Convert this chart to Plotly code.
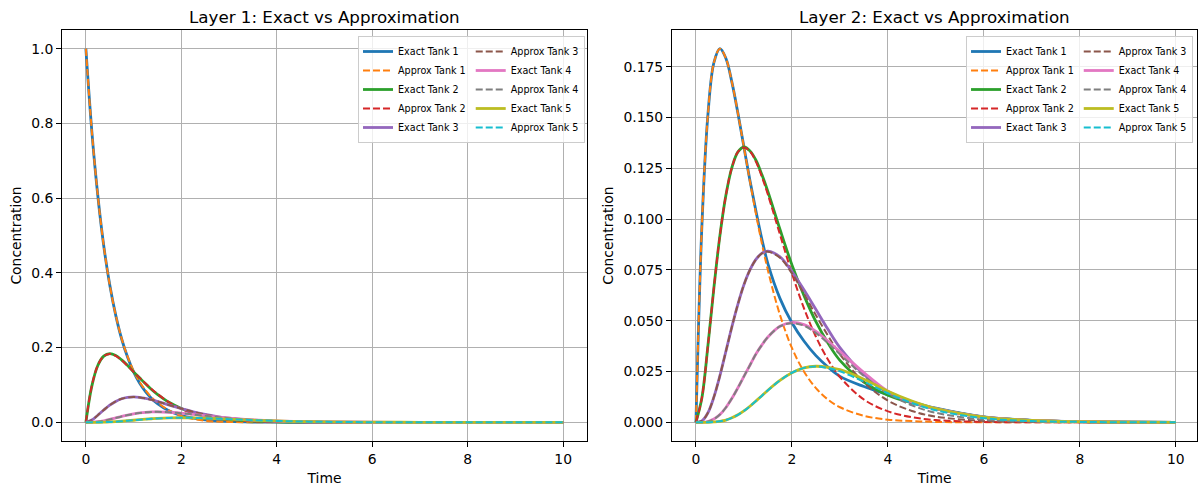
import plotly.graph_objects as go
from plotly.subplots import make_subplots

# Time samples
t = [0, 0.125, 0.25, 0.375, 0.5, 0.625, 0.75, 0.875, 1, 1.125, 1.25, 1.375, 1.5, 1.75,
     2, 2.25, 2.5, 2.75, 3, 3.5, 4, 4.5, 5, 6, 7, 8, 9, 10]

# ---------------- Layer 1 ----------------
l1_exact_1 = [1.000, 0.779, 0.607, 0.472, 0.368, 0.287, 0.223, 0.174, 0.135, 0.105, 0.082, 0.064, 0.050, 0.030,
              0.018, 0.011, 0.0067, 0.0041, 0.0025, 0.0009, 0.0003, 0.0001, 0.0, 0, 0, 0, 0, 0]
l1_approx_1 = [1.000, 0.779, 0.607, 0.472, 0.368, 0.287, 0.224, 0.176, 0.137, 0.108, 0.086, 0.067, 0.053, 0.031,
               0.017, 0.009, 0.004, 0.002, 0.001, 0.0003, 0.0001, 0, 0, 0, 0, 0, 0, 0]
l1_exact_2 = [0, 0.097, 0.152, 0.177, 0.184, 0.179, 0.167, 0.152, 0.135, 0.119, 0.103, 0.088, 0.075, 0.053,
              0.037, 0.025, 0.017, 0.011, 0.0074, 0.0032, 0.0013, 0.0006, 0.0002, 0, 0, 0, 0, 0]
l1_approx_2 = [0, 0.098, 0.152, 0.177, 0.183, 0.178, 0.166, 0.151, 0.135, 0.119, 0.104, 0.089, 0.076, 0.053,
               0.036, 0.024, 0.016, 0.010, 0.0068, 0.0028, 0.0011, 0.0004, 0.0001, 0, 0, 0, 0, 0]
l1_exact_3 = [0, 0.006, 0.019, 0.033, 0.046, 0.056, 0.063, 0.0665, 0.068, 0.0667, 0.064, 0.0604, 0.056, 0.046,
              0.037, 0.028, 0.021, 0.0155, 0.0112, 0.0056, 0.0027, 0.0012, 0.0006, 0.0001, 0, 0, 0, 0]
l1_approx_3 = [0, 0.006, 0.019, 0.033, 0.046, 0.056, 0.063, 0.0665, 0.068, 0.0667, 0.064, 0.0604, 0.056, 0.046,
               0.037, 0.028, 0.021, 0.0150, 0.0108, 0.0053, 0.0025, 0.0011, 0.0005, 0.0001, 0, 0, 0, 0]
l1_exact_4 = [0, 0.0003, 0.0016, 0.0042, 0.0077, 0.0117, 0.0157, 0.0194, 0.0226, 0.0250, 0.0267, 0.0277, 0.0280, 0.0270,
              0.0244, 0.0211, 0.0176, 0.0142, 0.0112, 0.0065, 0.0036, 0.0019, 0.0010, 0.0002, 0.0001, 0, 0, 0]
l1_approx_4 = [0, 0.0003, 0.0016, 0.0042, 0.0077, 0.0117, 0.0157, 0.0194, 0.0226, 0.0250, 0.0267, 0.0277, 0.0280, 0.0270,
               0.0243, 0.0210, 0.0174, 0.0140, 0.0110, 0.0063, 0.0034, 0.0018, 0.0009, 0.0002, 0, 0, 0, 0]
l1_exact_5 = [0, 0, 0.0001, 0.0004, 0.0010, 0.0018, 0.0029, 0.0043, 0.0056, 0.0070, 0.0084, 0.0095, 0.0105, 0.0118,
              0.0122, 0.0119, 0.0110, 0.0097, 0.0084, 0.0057, 0.0036, 0.0021, 0.0012, 0.0003, 0.0001, 0, 0, 0]
l1_approx_5 = [0, 0, 0.0001, 0.0004, 0.0010, 0.0018, 0.0029, 0.0043, 0.0056, 0.0070, 0.0084, 0.0095, 0.0105, 0.0118,
               0.0122, 0.0120, 0.0111, 0.0098, 0.0085, 0.0058, 0.0037, 0.0022, 0.0013, 0.0003, 0.0001, 0, 0, 0]

# ---------------- Layer 2 ----------------
l2_exact_1 = [0, 0.0974, 0.1516, 0.1771, 0.1839, 0.1791, 0.1673, 0.1521, 0.1355, 0.1190, 0.1040, 0.0900, 0.0780, 0.0610,
              0.0490, 0.0400, 0.0328, 0.0272, 0.0226, 0.0176, 0.0136, 0.0100, 0.0070, 0.0027, 0.0010, 0.0003, 0.0001, 0]
l2_approx_1 = [0, 0.0974, 0.1516, 0.1771, 0.1839, 0.1791, 0.1673, 0.1521, 0.1353, 0.1186, 0.1026, 0.0879, 0.0747, 0.0529,
               0.0366, 0.0250, 0.0168, 0.0112, 0.0074, 0.0032, 0.0013, 0.0006, 0.0002, 0.0000, 0, 0, 0, 0]
l2_exact_2 = [0, 0.0122, 0.0379, 0.0664, 0.0920, 0.1119, 0.1255, 0.1331, 0.1355, 0.1336, 0.1290, 0.1218, 0.1135, 0.0950,
              0.0775, 0.0625, 0.0495, 0.0390, 0.0305, 0.0198, 0.0134, 0.0096, 0.0067, 0.0026, 0.0009, 0.0003, 0.0001, 0]
l2_approx_2 = [0, 0.0122, 0.0379, 0.0664, 0.0920, 0.1119, 0.1255, 0.1331, 0.1353, 0.1334, 0.1283, 0.1208, 0.1120, 0.0925,
               0.0733, 0.0562, 0.0421, 0.0309, 0.0223, 0.0112, 0.0054, 0.0025, 0.0011, 0.0002, 0, 0, 0, 0]
l2_exact_3 = [0, 0.0007, 0.0047, 0.0125, 0.0230, 0.0350, 0.0471, 0.0582, 0.0677, 0.0750, 0.0802, 0.0833, 0.0843, 0.0815,
              0.0742, 0.0652, 0.0555, 0.0458, 0.0368, 0.0236, 0.0146, 0.0098, 0.0066, 0.0025, 0.0009, 0.0003, 0.0001, 0]
l2_approx_3 = [0, 0.0007, 0.0047, 0.0125, 0.0230, 0.0350, 0.0471, 0.0582, 0.0677, 0.0750, 0.0801, 0.0831, 0.0840, 0.0810,
               0.0733, 0.0633, 0.0527, 0.0427, 0.0335, 0.0196, 0.0107, 0.0056, 0.0028, 0.0007, 0.0002, 0, 0, 0]
l2_exact_4 = [0, 0.0000, 0.0004, 0.0016, 0.0038, 0.0073, 0.0118, 0.0170, 0.0226, 0.0281, 0.0336, 0.0381, 0.0420, 0.0473,
              0.0491, 0.0481, 0.0448, 0.0400, 0.0348, 0.0245, 0.0153, 0.0101, 0.0067, 0.0025, 0.0009, 0.0003, 0.0001, 0]
l2_approx_4 = [0, 0.0000, 0.0004, 0.0016, 0.0038, 0.0073, 0.0118, 0.0170, 0.0226, 0.0281, 0.0336, 0.0381, 0.0420, 0.0472,
               0.0488, 0.0476, 0.0439, 0.0389, 0.0335, 0.0228, 0.0143, 0.0084, 0.0047, 0.0013, 0.0003, 0.0001, 0, 0]
l2_exact_5 = [0, 0, 0.0000, 0.0002, 0.0005, 0.0011, 0.0022, 0.0037, 0.0056, 0.0079, 0.0105, 0.0131, 0.0158, 0.0206,
              0.0244, 0.0268, 0.0276, 0.0271, 0.0259, 0.0212, 0.0153, 0.0105, 0.0068, 0.0026, 0.0009, 0.0003, 0.0001, 0]
l2_approx_5 = [0, 0, 0.0000, 0.0002, 0.0005, 0.0011, 0.0022, 0.0037, 0.0056, 0.0079, 0.0105, 0.0131, 0.0158, 0.0206,
               0.0244, 0.0268, 0.0275, 0.0267, 0.0251, 0.0200, 0.0143, 0.0095, 0.0059, 0.0020, 0.0006, 0.0002, 0, 0]

titles = ["Layer 1: Exact vs Approximation", "Layer 2: Exact vs Approximation"]
exact_colors = ["#1f77b4", "#2ca02c", "#9467bd", "#e377c2", "#bcbd22"]
approx_colors = ["#ff7f0e", "#d62728", "#8c564b", "#7f7f7f", "#17becf"]

layers = [
    ([l1_exact_1, l1_exact_2, l1_exact_3, l1_exact_4, l1_exact_5],
     [l1_approx_1, l1_approx_2, l1_approx_3, l1_approx_4, l1_approx_5]),
    ([l2_exact_1, l2_exact_2, l2_exact_3, l2_exact_4, l2_exact_5],
     [l2_approx_1, l2_approx_2, l2_approx_3, l2_approx_4, l2_approx_5]),
]

FONT = "DejaVu Sans"
fig = make_subplots(rows=1, cols=2, subplot_titles=titles, horizontal_spacing=0.0748)

for li, (exacts, approxs) in enumerate(layers):
    col = li + 1
    legname = "legend" if li == 0 else "legend2"
    idx = 0
    for k in range(5):
        for kind in ("Exact", "Approx"):
            group = f"L{li}c{1 if idx < 5 else 2}"
            if kind == "Exact":
                y = exacts[k]
                line = dict(color=exact_colors[k], width=2.8, shape="spline", smoothing=1.0)
            else:
                y = approxs[k]
                line = dict(color=approx_colors[k], width=2.0, dash="7px,3px",
                            shape="spline", smoothing=1.0)
            fig.add_trace(go.Scatter(x=t, y=y, mode="lines", name=f"{kind} Tank {k+1}",
                                     line=line, legend=legname, legendgroup=group,
                                     showlegend=True),
                          row=1, col=col)
            idx += 1

axis_common = dict(showgrid=True, gridcolor="#b0b0b0", gridwidth=1, showline=True, mirror=True,
                   linecolor="black", linewidth=1, ticks="outside", ticklen=5, tickcolor="black",
                   zeroline=False, tickfont=dict(size=13.9, family=FONT, color="black"))

fig.update_xaxes(**axis_common, dtick=2, tick0=0,
                 title=dict(text="Time", font=dict(size=13.9, family=FONT), standoff=8))
fig.update_xaxes(range=[-0.5, 10.5], row=1, col=1)
fig.update_xaxes(range=[-0.5, 10.44], row=1, col=2)
fig.update_yaxes(**axis_common,
                 title=dict(text="Concentration", font=dict(size=13.9, family=FONT), standoff=6))
fig.update_yaxes(range=[-0.05, 1.05], dtick=0.2, tick0=0, tickformat=".1f", row=1, col=1)
fig.update_yaxes(range=[-0.0092, 0.1931], dtick=0.025, tick0=0, tickformat=".3f", row=1, col=2)

for ann in fig.layout.annotations:
    ann.font = dict(size=16.7, family=FONT, color="black")
    ann.yshift = 1

legend_common = dict(orientation="h", traceorder="grouped", yanchor="top", xanchor="right",
                     font=dict(size=9.6, family=FONT, color="black"),
                     bgcolor="rgba(255,255,255,0.8)", bordercolor="#cccccc", borderwidth=1,
                     itemwidth=30, tracegroupgap=0)

fig.update_layout(
    width=1198, height=486,
    margin=dict(l=62, r=1, t=30, b=45),
    plot_bgcolor="white", paper_bgcolor="white",
    font=dict(family=FONT, size=13.9, color="black"),
    legend=dict(x=0.4608, y=0.9854, **legend_common),
    legend2=dict(x=0.9965, y=0.9854, **legend_common),
)

fig.write_html("out.html", config={"displayModeBar": False},
               post_script="document.body.style.margin='0px';")
